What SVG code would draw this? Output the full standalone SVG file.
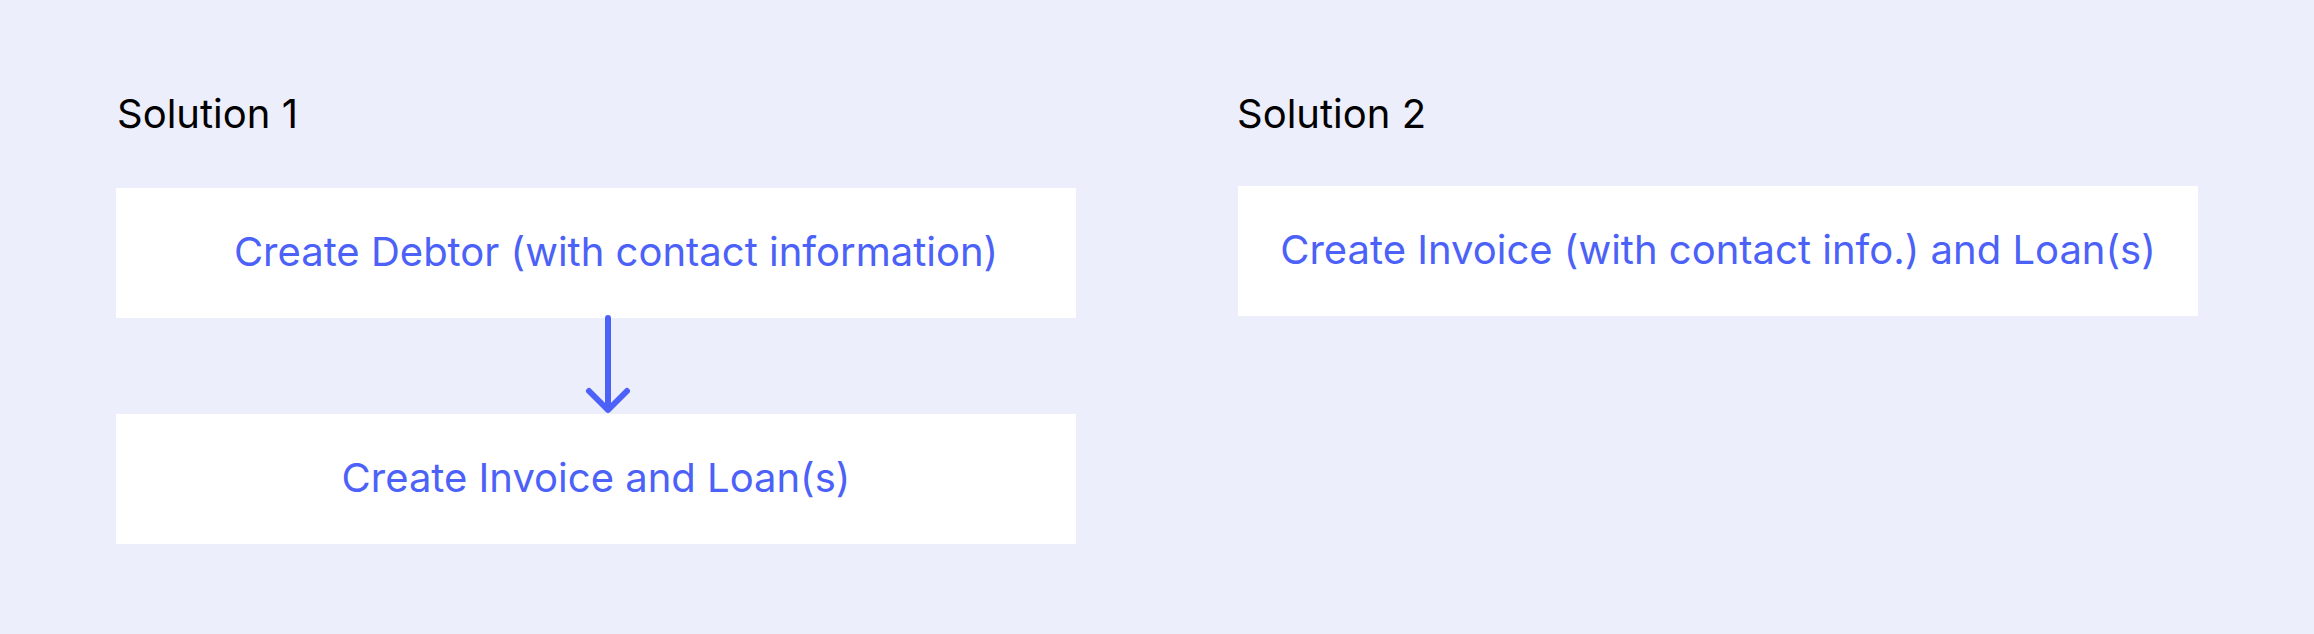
<svg xmlns="http://www.w3.org/2000/svg" width="2314" height="634" viewBox="0 0 2314 634">
<style>
.bg{fill:#ECEEFC}
.box{fill:#FFFFFF}
.title{font-family:Inter,"Liberation Sans",sans-serif;font-size:40px;fill:#000000}
.lbl{font-family:Inter,"Liberation Sans",sans-serif;font-size:40px;fill:#4B61F7}
.conn{stroke:#4B61F7;stroke-width:6;fill:none;stroke-linecap:round;stroke-linejoin:round}
</style>
<rect class="bg" x="0" y="0" width="2314" height="634"/>
<text class="title" x="117" y="128">Solution 1</text>
<text class="title" x="1237" y="128">Solution 2</text>
<g id="node-debtor">
<rect class="box" x="116" y="188" width="960" height="130"/>
<text class="lbl" x="616" y="266" text-anchor="middle">Create Debtor (with contact information)</text>
</g>
<g id="node-invoice">
<rect class="box" x="116" y="414" width="960" height="130"/>
<text class="lbl" x="596" y="492" text-anchor="middle">Create Invoice and Loan(s)</text>
</g>
<g id="node-invoice2">
<rect class="box" x="1238" y="186" width="960" height="130"/>
<text class="lbl" x="1718" y="264" text-anchor="middle">Create Invoice (with contact info.) and Loan(s)</text>
</g>
<g id="connectors">
<path class="conn" d="M608 318 V409"/>
<path class="conn" d="M589 391 L608 410 L627 391"/>
</g>
</svg>
